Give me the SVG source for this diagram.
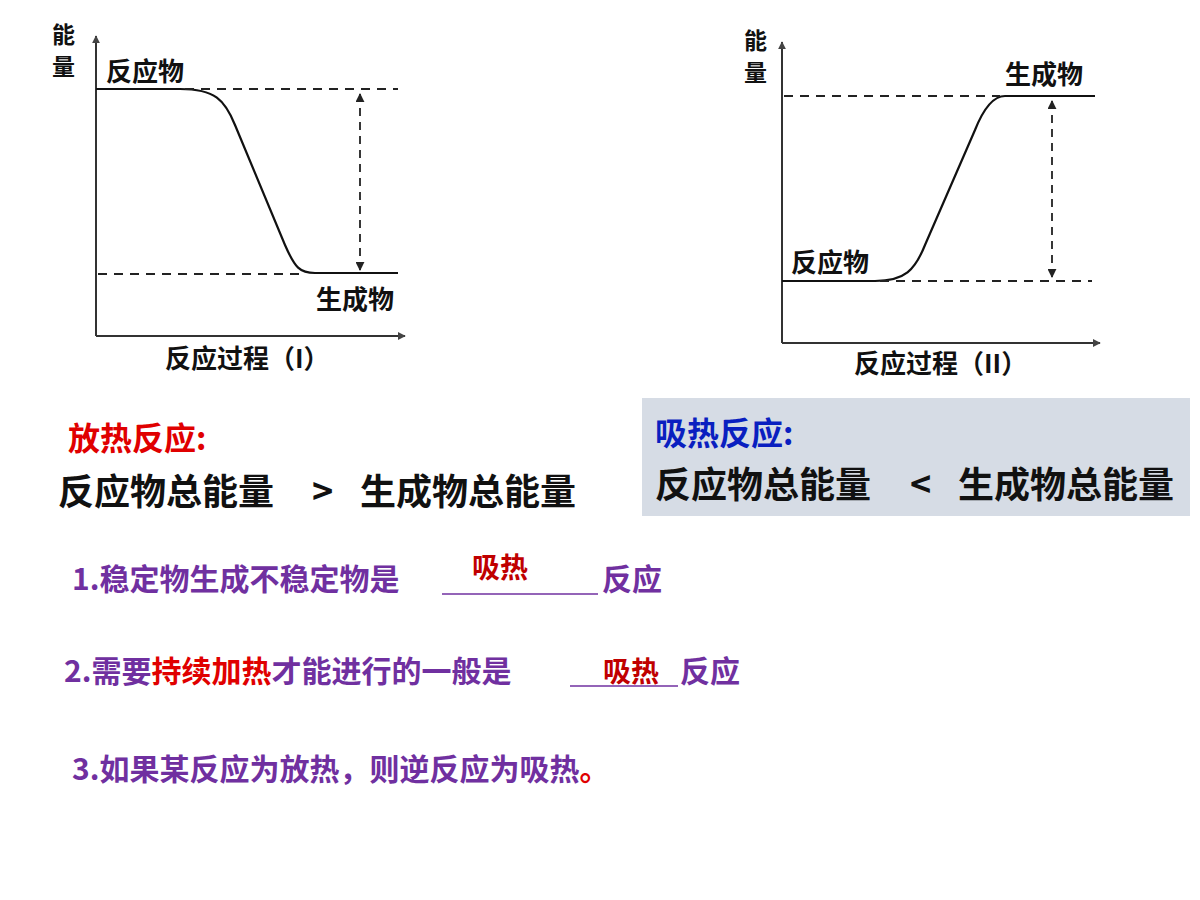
<svg xmlns="http://www.w3.org/2000/svg" width="1200" height="900" viewBox="0 0 1200 900">
<style>
text{font-family:"Noto Sans CJK SC","Liberation Sans",sans-serif;font-weight:bold}
.ax{stroke:#333;stroke-width:2;fill:none}
.sol{stroke:#111;stroke-width:2.2;fill:none}
.dash{stroke:#222;stroke-width:2;stroke-dasharray:9,7;fill:none}
.vd{stroke:#222;stroke-width:1.8;stroke-dasharray:8,6;fill:none}
.lbl{font-size:26px;fill:#111}
.ax-t{font-size:23px;fill:#111}
.p{fill:#7030a0;font-size:30px}
.r{fill:#e00000}
.big{font-size:36px;fill:#111}
</style>
<defs>
<marker id="ah" viewBox="0 0 10 10" refX="9" refY="5" markerWidth="5" markerHeight="5" orient="auto-start-reverse"><path d="M0,0L10,5L0,10z" fill="#222"/></marker>
<marker id="axh" viewBox="0 0 10 10" refX="9" refY="5" markerWidth="4" markerHeight="4" orient="auto"><path d="M0,0L10,5L0,10z" fill="#444"/></marker>
</defs>
<g id="chart1">
<line class="ax" x1="96" y1="336" x2="96" y2="36" marker-end="url(#axh)"/>
<line class="ax" x1="96" y1="336" x2="405" y2="336" marker-end="url(#axh)"/>
<path class="sol" d="M96,89 L180,89 C215,89 225,100 235,125 L285,245 C295,268 300,273 315,273 L398,273"/>
<line class="dash" x1="185" y1="89" x2="398" y2="89"/>
<line class="dash" x1="98" y1="274" x2="300" y2="274"/>
<line class="vd" x1="360" y1="94" x2="360" y2="270" marker-start="url(#ah)" marker-end="url(#ah)"/>
<text class="ax-t" x="52" y="43">能</text><text class="ax-t" x="52" y="75">量</text>
<text class="lbl" x="106" y="81">反应物</text>
<text class="lbl" x="316" y="309">生成物</text>
<text class="lbl" x="165" y="368">反应过程（I）</text>
</g>
<g id="chart2">
<line class="ax" x1="782" y1="343" x2="782" y2="42" marker-end="url(#axh)"/>
<line class="ax" x1="782" y1="343" x2="1100" y2="343" marker-end="url(#axh)"/>
<path class="sol" d="M782,281 L875,281 C905,281 915,270 925,245 L975,130 C985,105 995,96 1005,96 L1095,96"/>
<line class="dash" x1="784" y1="96" x2="1000" y2="96"/>
<line class="dash" x1="880" y1="281" x2="1092" y2="281"/>
<line class="vd" x1="1052" y1="101" x2="1052" y2="277" marker-start="url(#ah)" marker-end="url(#ah)"/>
<text class="ax-t" x="744" y="49">能</text><text class="ax-t" x="744" y="81">量</text>
<text class="lbl" x="1005" y="84">生成物</text>
<text class="lbl" x="791" y="272">反应物</text>
<text class="lbl" x="854" y="373">反应过程（II）</text>
</g>
<g id="exo">
<text x="68" y="450" font-size="32" fill="#e00000">放热反应:</text>
<text class="big" x="58" y="505">反应物总能量</text>
<text class="big" x="312" y="505">&gt;</text>
<text class="big" x="360" y="505">生成物总能量</text>
</g>
<g id="endo">
<rect x="642" y="398" width="548" height="118" fill="#d6dce5"/>
<text x="655" y="445" font-size="32" fill="#0a1fc0">吸热反应:</text>
<text class="big" x="655" y="498">反应物总能量</text>
<text class="big" x="910" y="498">&lt;</text>
<text class="big" x="958" y="498">生成物总能量</text>
</g>
<g id="q1">
<text class="p" x="72" y="590">1.稳定物生成不稳定物是</text>
<line x1="442" y1="594" x2="598" y2="594" stroke="#7030a0" stroke-width="1.5"/>
<text x="472" y="578" font-size="28" fill="#c00000">吸热</text>
<text class="p" x="602" y="590">反应</text>
</g>
<g id="q2">
<text class="p" x="64" y="682">2.需要<tspan class="r">持续加热</tspan>才能进行的一般是</text>
<line x1="570" y1="686" x2="678" y2="686" stroke="#7030a0" stroke-width="1.5"/>
<text x="603" y="682" font-size="28" fill="#c00000">吸热</text>
<text class="p" x="680" y="682">反应</text>
</g>
<g id="q3">
<text class="p" x="72" y="780">3.如果某反应为放热，则逆反应为吸热<tspan class="r">。</tspan></text>
</g>
</svg>
